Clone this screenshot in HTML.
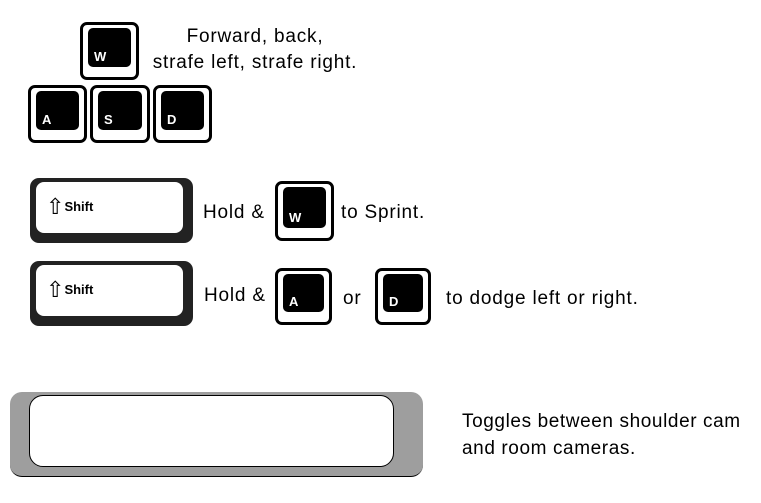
<!DOCTYPE html>
<html><head><meta charset="utf-8"><style>
body{margin:0;width:761px;height:503px;background:#fff;position:relative;overflow:hidden;font-family:"Liberation Sans",sans-serif}
.k{position:absolute;border:3px solid #000;border-radius:7px;background:#fff;box-sizing:border-box}
.k .in{position:absolute;left:5px;top:3px;right:5px;bottom:10px;background:#000;border-radius:5px}
.k .l{position:absolute;left:11px;bottom:13px;color:#fff;font-weight:bold;font-size:13px}
.t{position:absolute;font-size:19px;letter-spacing:0.8px;color:#000;white-space:nowrap}
.sh{position:absolute;background:#222;border-radius:9px}
.sh .in{position:absolute;left:6px;top:4px;right:10px;bottom:10px;background:#fff;border-radius:8px}
.sh .l{position:absolute;left:16px;top:16px;font-size:13px;font-weight:bold;color:#000}
.sh .l span{font-size:22px;font-weight:normal;vertical-align:-3px}
</style></head><body>
<div class="k" style="left:80px;top:22px;width:59px;height:58px"><div class="in"></div><div class="l">W</div></div>
<div class="k" style="left:28px;top:85px;width:59px;height:58px"><div class="in"></div><div class="l">A</div></div>
<div class="k" style="left:90px;top:85px;width:60px;height:58px"><div class="in"></div><div class="l">S</div></div>
<div class="k" style="left:153px;top:85px;width:59px;height:58px"><div class="in"></div><div class="l">D</div></div>
<div class="t" style="left:144px;top:24px;width:222px;text-align:center;line-height:26px">Forward, back,<br>strafe left, strafe right.</div>

<div class="sh" style="left:30px;top:178px;width:163px;height:65px"><div class="in"></div><div class="l"><span>⇧</span>Shift</div></div>
<div class="t" style="left:203px;top:202px">Hold &amp;</div>
<div class="k" style="left:275px;top:181px;width:59px;height:60px"><div class="in"></div><div class="l">W</div></div>
<div class="t" style="left:341px;top:202px">to Sprint.</div>

<div class="sh" style="left:30px;top:261px;width:163px;height:65px"><div class="in"></div><div class="l"><span>⇧</span>Shift</div></div>
<div class="t" style="left:204px;top:285px">Hold &amp;</div>
<div class="k" style="left:275px;top:268px;width:57px;height:57px"><div class="in"></div><div class="l">A</div></div>
<div class="t" style="left:343px;top:288px">or</div>
<div class="k" style="left:375px;top:268px;width:56px;height:57px"><div class="in"></div><div class="l">D</div></div>
<div class="t" style="left:446px;top:288px">to dodge left or right.</div>

<div style="position:absolute;left:10px;top:392px;width:413px;height:85px;background:#9e9e9e;border-radius:12px;border-bottom:1px solid #000;box-sizing:border-box">
<div style="position:absolute;left:19px;top:3px;width:365px;height:72px;background:#fff;border:1px solid #000;border-radius:14px;box-sizing:border-box"></div></div>
<div class="t" style="left:462px;top:408px;line-height:27px;letter-spacing:0.6px">Toggles between shoulder cam<br>and room cameras.</div>
</body></html>
